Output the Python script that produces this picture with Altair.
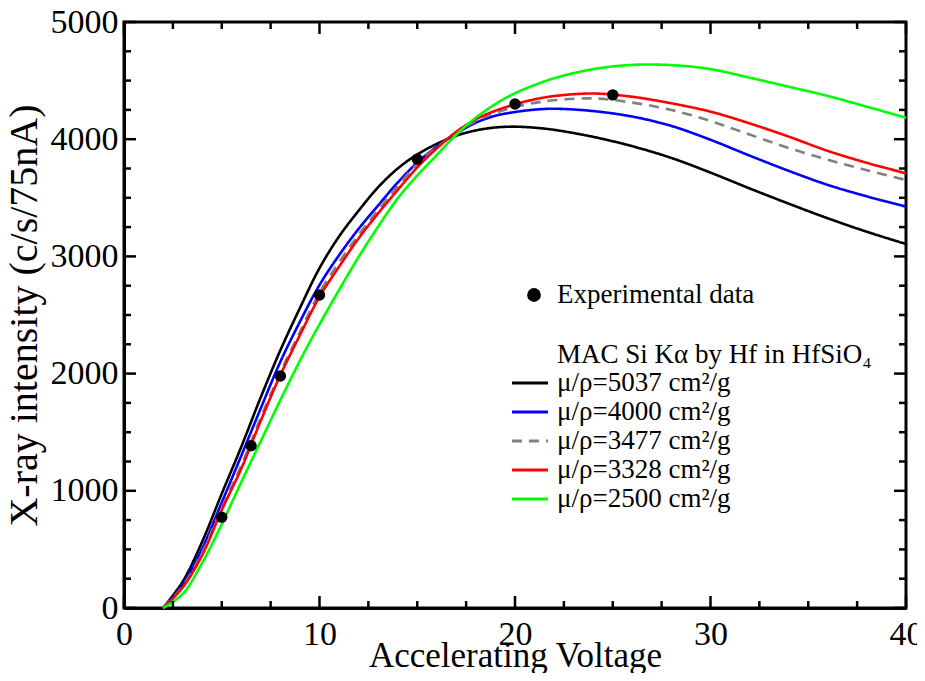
import altair as alt
import pandas as pd

# ---------------- data ----------------
voltage = [2, 3, 4, 5, 6, 7, 8, 9, 10, 11, 12, 13, 14, 15, 16, 17, 18, 19, 20, 21, 22,
           24, 26, 28, 30, 32, 34, 36, 38, 40]

mac_5037 = [0, 225, 566, 975, 1376, 1800, 2200, 2560, 2900, 3170, 3390, 3590, 3750, 3870,
            3960, 4030, 4075, 4100, 4107, 4098, 4080, 4020, 3940, 3840, 3715, 3580, 3450,
            3325, 3210, 3106]
mac_4000 = [0, 200, 509, 900, 1300, 1706, 2102, 2443, 2756, 3010, 3235, 3435, 3630, 3800,
            3936, 4050, 4141, 4200, 4232, 4252, 4260, 4240, 4193, 4113, 3995, 3860, 3730,
            3610, 3512, 3424]
mac_3477 = [0, 185, 475, 855, 1215, 1625, 2010, 2355, 2690, 2950, 3185, 3395, 3600, 3790,
            3930, 4055, 4155, 4225, 4275, 4310, 4332, 4348, 4312, 4250, 4155, 4040, 3925,
            3825, 3735, 3652]
mac_3328 = [0, 175, 452, 836, 1190, 1600, 1988, 2329, 2656, 2912, 3154, 3368, 3567, 3760,
            3922, 4064, 4170, 4243, 4297, 4340, 4368, 4390, 4362, 4306, 4235, 4135, 4022,
            3900, 3798, 3709]
mac_2500 = [0, 120, 385, 715, 1075, 1425, 1775, 2110, 2420, 2713, 2995, 3254, 3495, 3690,
            3865, 4040, 4184, 4300, 4392, 4462, 4520, 4598, 4634, 4632, 4598, 4525, 4448,
            4369, 4277, 4183]

series_labels = ["μ/ρ=5037 cm²/g", "μ/ρ=4000 cm²/g", "μ/ρ=3477 cm²/g",
                 "μ/ρ=3328 cm²/g", "μ/ρ=2500 cm²/g"]
series_values = [mac_5037, mac_4000, mac_3477, mac_3328, mac_2500]
series_colors = ["#000000", "#0000ff", "#808080", "#ff0000", "#00ff00"]
series_dashes = [[1, 0], [1, 0], [10, 7], [1, 0], [1, 0]]

exp_voltage = [5, 6.5, 8, 10, 15, 20, 25]
exp_intensity = [775, 1385, 1980, 2670, 3830, 4300, 4378]
exp_label = "Experimental data"
mac_title = "MAC Si Kα by Hf in HfSiO₄"

x_major = [0, 10, 20, 30, 40]
x_minor = [2.5, 5, 7.5, 12.5, 15, 17.5, 22.5, 25, 27.5, 32.5, 35, 37.5]
y_major = [0, 1000, 2000, 3000, 4000, 5000]
y_minor = [v for v in range(250, 5000, 250) if v % 1000 != 0]

FONT = "Liberation Serif"
xscale = alt.Scale(domain=[0, 40], nice=False, zero=False)
yscale = alt.Scale(domain=[0, 5000], nice=False, zero=False)
X0, X1 = 0, 40
Y0, Y1 = 0, 5000
MAJOR = 12
MINOR = 7

bottom_axis = alt.Axis(
    values=x_major, tickSize=0, domainColor="black", domainWidth=3, gridOpacity=0,
    labelOverlap=False, labelFlush=False, labelFont=FONT, labelFontSize=34,
    labelColor="black", format="d", labelPadding=9,
    title="Accelerating Voltage", titleFont=FONT, titleFontSize=35,
    titleFontWeight="normal", titleColor="black", titleBaseline="alphabetic", titleY=58)
left_axis = alt.Axis(
    values=y_major, tickSize=0, domainColor="black", domainWidth=3, gridOpacity=0,
    labelOverlap=False, labelFlush=False, labelFont=FONT, labelFontSize=34,
    labelColor="black", format="d", labelPadding=6,
    title="X-ray intensity (c/s/75nA)", titleFont=FONT, titleFontSize=40,
    titleFontWeight="normal", titleColor="black", titleAngle=270,
    titleBaseline="alphabetic", titleX=-88)

# ---------------- curves, one layer each ----------------
curve_layers = []
for k, (lab, vals) in enumerate(zip(series_labels, series_values)):
    df = pd.DataFrame({"V": voltage, "I": vals})
    curve_layers.append(
        alt.Chart(df).mark_line(strokeWidth=2.6, interpolate="catmull-rom",
                                color=series_colors[k],
                                strokeDash=series_dashes[k]).encode(
            x=alt.X("V:Q", scale=xscale, axis=bottom_axis),
            y=alt.Y("I:Q", scale=yscale, axis=left_axis),
        ))

points = alt.Chart(pd.DataFrame({"V": exp_voltage, "I": exp_intensity})).mark_point(
    filled=True, size=130, color="black", opacity=1).encode(
    x=alt.X("V:Q", scale=xscale),
    y=alt.Y("I:Q", scale=yscale),
)

# ---------------- legend (pixel layout inside the plot) ----------------
LX_SYM0, LX_SYM1, LX_TXT = 388, 424, 433
legend_layers = [
    alt.Chart().mark_point(filled=True, size=190, color="black", opacity=1).encode(
        x=alt.value(410), y=alt.value(273)),
    alt.Chart().mark_text(align="left", baseline="middle", font=FONT, fontSize=27,
                          color="black").encode(
        x=alt.value(LX_TXT), y=alt.value(273), text=alt.value(exp_label)),
    alt.Chart().mark_text(align="left", baseline="middle", font=FONT, fontSize=27,
                          color="black").encode(
        x=alt.value(LX_TXT), y=alt.value(333), text=alt.value(mac_title)),
]
for k, lab in enumerate(series_labels):
    yrow = 361 + 29 * k
    legend_layers.append(
        alt.Chart().mark_rule(strokeWidth=3, color=series_colors[k],
                              strokeDash=series_dashes[k]).encode(
            x=alt.value(LX_SYM0), x2=alt.value(LX_SYM1), y=alt.value(yrow)))
    legend_layers.append(
        alt.Chart().mark_text(align="left", baseline="middle", font=FONT, fontSize=27,
                              color="black").encode(
            x=alt.value(LX_TXT), y=alt.value(yrow), text=alt.value(lab)))


# ---------------- inward frame ticks ----------------
def xticks(values, edge, size, offset):
    return alt.Chart(pd.DataFrame({"V": values})).mark_tick(
        orient="vertical", size=size, thickness=2.5, color="black", yOffset=offset,
        opacity=1).encode(
        x=alt.X("V:Q", scale=xscale),
        y=alt.Y(datum=edge, type="quantitative", scale=yscale),
    )


def yticks(values, edge, size, offset):
    return alt.Chart(pd.DataFrame({"I": values})).mark_tick(
        orient="horizontal", size=size, thickness=2.5, color="black", xOffset=offset,
        opacity=1).encode(
        y=alt.Y("I:Q", scale=yscale),
        x=alt.X(datum=edge, type="quantitative", scale=xscale),
    )


tick_layers = [
    xticks(x_major, Y0, MAJOR, -MAJOR / 2), xticks(x_minor, Y0, MINOR, -MINOR / 2),
    xticks(x_major, Y1, MAJOR, MAJOR / 2), xticks(x_minor, Y1, MINOR, MINOR / 2),
    yticks(y_major, X0, MAJOR, MAJOR / 2), yticks(y_minor, X0, MINOR, MINOR / 2),
    yticks(y_major, X1, MAJOR, -MAJOR / 2), yticks(y_minor, X1, MINOR, -MINOR / 2),
]

chart = (
    alt.layer(*curve_layers, points, *tick_layers, *legend_layers)
    .properties(width=782, height=586,
                autosize=alt.AutoSizeParams(type="none"),
                padding={"left": 116, "top": 14, "right": 11, "bottom": 65})
    .configure(font=FONT)
    .configure_view(stroke="black", strokeWidth=3)
)

chart.save("out.html", embed_options={"renderer": "svg", "actions": False})
